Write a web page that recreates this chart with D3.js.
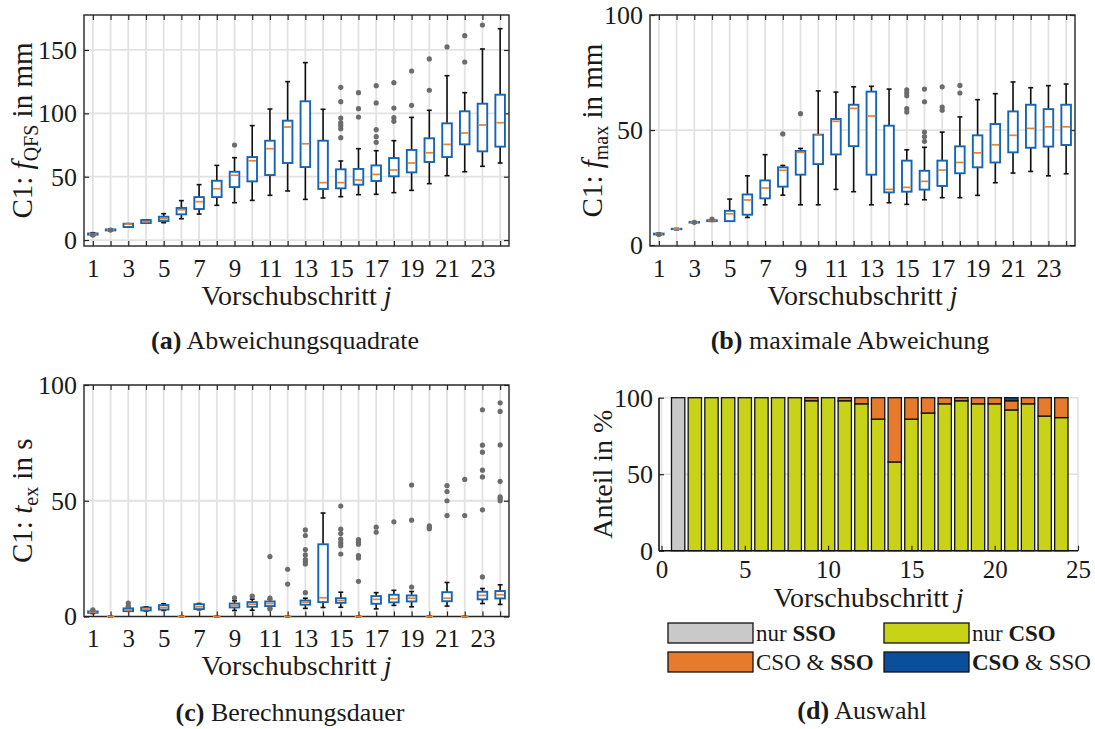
<!DOCTYPE html>
<html>
<head>
<meta charset="utf-8">
<script src="https://cdn.jsdelivr.net/npm/d3@7/dist/d3.min.js"></script>
<style>
  body { margin: 0; background: #fff; }
  svg text { font-family: "Liberation Serif", "Times New Roman", serif; fill: #1a1a1a; }
</style>
</head>
<body>
<svg id="fig" width="1095" height="729"></svg>
<script>
// Feed steps j = 1..24
const steps = d3.range(1, 25);

// (a) f_QFS in mm — box statistics per step
const qfsLow  = [3.5, 7.2, 10.3, 13.4, 13.7, 16.8, 20.5, 27.4, 29.5, 31.3, 35.3, 38.7, 32.1, 33.2, 34.2, 35.8, 36.1, 37.4, 39.2, 44.5, 50.8, 53.9, 58.2, 60.8];
const qfsQ1   = [4.3, 7.6, 10.3, 13.4, 15.0, 20.3, 24.5, 33.9, 41.8, 46.3, 51.3, 60.8, 57.6, 40.3, 40.8, 43.7, 46.6, 50.3, 53.4, 61.6, 65.5, 75.5, 70.0, 73.7];
const qfsMed  = [4.8, 8.0, 12.6, 14.5, 16.8, 23.9, 30.3, 40.5, 51.1, 62.6, 72.1, 89.2, 76.0, 45.3, 45.3, 47.4, 51.8, 55.3, 60.8, 68.9, 75.5, 84.5, 90.8, 92.6];
const qfsQ3   = [5.2, 8.4, 12.9, 15.8, 18.4, 25.3, 33.9, 46.8, 53.9, 65.5, 78.4, 94.2, 109.5, 78.4, 55.8, 56.1, 58.9, 64.7, 71.1, 80.3, 92.1, 101.6, 107.6, 114.7];
const qfsHigh = [5.8, 8.6, 12.9, 15.8, 20.8, 31.1, 43.7, 58.9, 65.0, 90.3, 103.4, 125.0, 140.0, 103.2, 62.4, 72.1, 70.5, 78.4, 96.8, 102.4, 129.7, 116.3, 150.8, 166.8];
const qfsOut  = [[3.9], [7.9], [], [], [], [], [], [], [75.0], [], [], [], [], [],
  [120.5, 109.2, 96.3, 92.6, 90.4, 87.9, 80.8], [116.3, 103.7, 97.1], [121.8, 108.2, 87.1, 81.6, 77.1],
  [124.2, 104.2, 96.6, 93.7], [133.4, 106.3], [142.9, 118.2], [152.4], [161.3, 140.5], [169.7], []];

// (b) f_max in mm
const maxLow  = [4.3, 6.7, 9.6, 10.3, 10.4, 12.0, 17.5, 21.7, 17.5, 17.5, 24.2, 23.2, 17.5, 18.4, 17.7, 19.7, 20.6, 20.6, 21.6, 27.1, 31.3, 32.0, 30.1, 31.0];
const maxQ1   = [4.6, 6.9, 9.8, 10.4, 10.4, 13.2, 20.3, 25.4, 30.6, 35.2, 39.4, 43.0, 30.6, 22.9, 23.2, 24.1, 25.7, 31.2, 33.8, 35.9, 40.3, 42.3, 42.8, 43.5];
const maxMed  = [4.8, 7.0, 9.9, 10.6, 13.6, 19.6, 24.8, 32.5, 40.3, 47.8, 53.8, 59.4, 56.1, 24.2, 25.1, 27.7, 32.6, 35.9, 40.1, 43.6, 47.7, 50.7, 51.4, 51.4];
const maxQ3   = [5.0, 7.1, 10.0, 10.8, 14.9, 22.0, 28.1, 33.8, 40.9, 48.0, 54.8, 61.0, 66.7, 51.9, 36.7, 32.3, 36.7, 42.9, 47.7, 52.6, 58.1, 61.0, 59.1, 61.0];
const maxHigh = [5.2, 7.2, 10.2, 11.0, 20.0, 30.1, 39.3, 34.6, 42.0, 67.0, 66.5, 68.8, 69.0, 67.8, 41.4, 42.5, 49.1, 55.7, 63.2, 65.8, 70.9, 68.4, 69.3, 70.0];
const maxOut  = [[4.6], [], [9.9], [11.3], [], [], [], [48.3], [57.1], [], [], [], [], [],
  [67.5, 66.2, 64.9, 59.3, 57.8], [67.8, 62.3, 49.1, 47.2, 45.1], [68.8, 60.0, 58.6], [69.4, 66.1],
  [], [], [], [], [], []];

// (c) t_ex in s
const texLow  = [1.3, 0, 2.3, 2.4, 2.6, 0, 2.9, 0, 2.6, 2.7, 3.6, 0, 3.5, 3.9, 4.0, 0, 3.3, 4.8, 4.2, 0, 4.5, 0, 5.6, 5.2];
const texQ1   = [1.6, 0, 2.3, 2.6, 3.0, 0, 3.2, 0, 3.9, 4.2, 4.5, 0, 5.1, 6.2, 5.9, 0, 5.5, 6.1, 6.5, 0, 6.6, 0, 7.4, 7.8];
const texMed  = [1.9, 0, 2.9, 3.2, 3.9, 0, 4.2, 0, 4.8, 5.3, 5.6, 0, 6.2, 8.1, 6.9, 0, 7.4, 7.7, 7.9, 0, 7.9, 0, 9.1, 9.4];
const texQ3   = [2.2, 0, 3.5, 3.9, 4.9, 0, 5.3, 0, 5.6, 6.2, 6.5, 0, 6.9, 31.2, 7.9, 0, 8.8, 9.4, 9.1, 0, 10.5, 0, 10.7, 11.0];
const texHigh = [2.5, 0, 4.0, 4.2, 5.5, 0, 5.6, 0, 6.8, 7.5, 7.4, 0, 7.9, 44.7, 10.5, 0, 10.3, 11.3, 10.8, 0, 14.7, 0, 12.1, 13.7];
const texOut  = [[2.9], [], [5.8, 4.6], [], [], [], [], [], [8.1], [8.8], [25.9, 7.9, 3.2], [20.4, 14.0],
  [37.4, 35.0, 28.9, 26.6, 24.6, 23.7, 22.7, 10.3], [], [47.7, 37.7, 35.8, 33.4, 31.9, 30.6, 27.0],
  [33.2, 32.1, 31.2, 26.3, 25.3, 15.2], [38.6, 36.4], [40.9], [56.8, 41.6, 12.7], [39.2, 38.6, 37.9],
  [56.5, 54.0, 50.0, 43.6], [59.2, 43.6], [89.3, 74.0, 71.0, 63.2, 60.3, 46.1, 17.1],
  [92.3, 88.6, 74.1, 58.4, 51.7, 51.0, 50.0]];

// (d) share of selected optimiser in %
const shareNurSSO  = [100, 0, 0, 0, 0, 0, 0, 0, 0, 0, 0, 0, 0, 0, 0, 0, 0, 0, 0, 0, 0, 0, 0, 0];
const shareNurCSO  = [0, 100, 100, 100, 100, 100, 100, 100, 98, 100, 98, 96, 86, 58, 86, 90, 96, 98, 96, 96, 92, 96, 88, 87];
const shareCsoSSO  = [0, 0, 0, 0, 0, 0, 0, 0, 2, 0, 2, 4, 14, 42, 14, 10, 4, 2, 4, 4, 6, 4, 12, 13];
const shareCSOsso  = [0, 0, 0, 0, 0, 0, 0, 0, 0, 0, 0, 0, 0, 0, 0, 0, 0, 0, 0, 0, 2, 0, 0, 0];

const svg = d3.select("#fig");
const SERIF = '"Liberation Serif", "Times New Roman", serif';
const INK = "#262626";
const GRID = "#e2e2e2";
const BOX_BLUE = "#1565b5";
const MED_ORANGE = "#e8822e";
const OUT_GRAY = "#6c6c6c";
const TICK_FS = 24, LABEL_FS = 27;

function styleAxis(sel, size) {
  sel.select(".domain").remove();
  sel.selectAll("line").attr("stroke", INK).attr("stroke-width", 1.2);
  sel.selectAll("text").attr("font-family", SERIF).attr("font-size", size).attr("fill", "#1a1a1a");
}

function boxPanel(p) {
  const x = d3.scaleLinear().domain([0.5, 24.5]).range([p.left, p.right]);
  const y = d3.scaleLinear().domain(p.yDomain).range([p.bottom, p.top]);
  const g = svg.append("g");

  // grid
  const grid = g.append("g").attr("stroke", GRID).attr("stroke-width", 1.8);
  grid.selectAll("line.v").data(steps).join("line").attr("class", "v")
    .attr("x1", d => x(d)).attr("x2", d => x(d)).attr("y1", p.top).attr("y2", p.bottom);
  grid.selectAll("line.h").data(p.yTicks).join("line").attr("class", "h")
    .attr("x1", p.left).attr("x2", p.right).attr("y1", d => y(d)).attr("y2", d => y(d));

  // frame and ticks
  g.append("rect").attr("x", p.left).attr("y", p.top).attr("width", p.right - p.left)
    .attr("height", p.bottom - p.top).attr("fill", "none").attr("stroke", INK).attr("stroke-width", 1.4);

  const axB = g.append("g").attr("transform", `translate(0,${p.bottom})`)
    .call(d3.axisBottom(x).tickValues(steps).tickSize(-5).tickPadding(p.xPad).tickFormat(d => d % 2 ? d : ""));
  styleAxis(axB, TICK_FS + 1);
  const axT = g.append("g").attr("transform", `translate(0,${p.top})`)
    .call(d3.axisTop(x).tickValues(steps).tickSize(-5).tickFormat(""));
  styleAxis(axT, TICK_FS);
  const axL = g.append("g").attr("transform", `translate(${p.left},0)`)
    .call(d3.axisLeft(y).tickValues(p.yTicks).tickSize(-5).tickPadding(7));
  styleAxis(axL, TICK_FS + 2);
  const axR = g.append("g").attr("transform", `translate(${p.right},0)`)
    .call(d3.axisRight(y).tickValues(p.yTicks).tickSize(-5).tickFormat(""));
  styleAxis(axR, TICK_FS);

  const items = steps.map((j, i) => ({
    j, lo: p.low[i], q1: p.q1[i], med: p.med[i], q3: p.q3[i], hi: p.high[i], out: p.out[i]
  }));
  const hw = x(1.27) - x(1);   // box half width
  const cw = x(1.14) - x(1);   // whisker cap half width

  const bx = g.append("g").selectAll("g").data(items).join("g");
  // whiskers
  bx.append("line").attr("x1", d => x(d.j)).attr("x2", d => x(d.j))
    .attr("y1", d => y(d.q3)).attr("y2", d => y(d.hi)).attr("stroke", "#111").attr("stroke-width", 1.6);
  bx.append("line").attr("x1", d => x(d.j)).attr("x2", d => x(d.j))
    .attr("y1", d => y(d.q1)).attr("y2", d => y(d.lo)).attr("stroke", "#111").attr("stroke-width", 1.6);
  bx.append("line").attr("x1", d => x(d.j) - cw).attr("x2", d => x(d.j) + cw)
    .attr("y1", d => y(d.hi)).attr("y2", d => y(d.hi)).attr("stroke", "#111").attr("stroke-width", 1.6);
  bx.append("line").attr("x1", d => x(d.j) - cw).attr("x2", d => x(d.j) + cw)
    .attr("y1", d => y(d.lo)).attr("y2", d => y(d.lo)).attr("stroke", "#111").attr("stroke-width", 1.6);
  // box
  bx.append("rect").attr("x", d => x(d.j) - hw).attr("width", 2 * hw)
    .attr("y", d => y(d.q3)).attr("height", d => y(d.q1) - y(d.q3))
    .attr("fill", "#fff").attr("stroke", BOX_BLUE).attr("stroke-width", 1.9);
  // median
  bx.append("line").attr("x1", d => x(d.j) - hw + 1).attr("x2", d => x(d.j) + hw - 1)
    .attr("y1", d => y(d.med)).attr("y2", d => y(d.med)).attr("stroke", MED_ORANGE).attr("stroke-width", 1.7);
  // outliers
  bx.selectAll("circle").data(d => d.out.map(v => ({ j: d.j, v }))).join("circle")
    .attr("cx", d => x(d.j)).attr("cy", d => y(d.v)).attr("r", 2.6).attr("fill", OUT_GRAY);

  // x label
  const xl = g.append("text").attr("x", (p.left + p.right) / 2).attr("y", p.xLabelY)
    .attr("text-anchor", "middle").attr("font-size", LABEL_FS + 1);
  xl.append("tspan").text("Vorschubschritt ");
  xl.append("tspan").attr("font-style", "italic").text("j");

  // y label
  const yl = g.append("text")
    .attr("transform", `translate(${p.yLabelX},${(p.top + p.bottom) / 2}) rotate(-90)`)
    .attr("text-anchor", "middle").attr("font-size", LABEL_FS + 2);
  yl.append("tspan").text("C1:  ");
  yl.append("tspan").attr("font-style", "italic").text(p.sym);
  yl.append("tspan").attr("dy", 6).attr("font-size", 20).text(p.sub);
  yl.append("tspan").attr("dy", -6).text(" in " + p.unit);

  // caption
  const cap = g.append("text").attr("x", p.capX).attr("y", p.capY).attr("text-anchor", "middle").attr("font-size", 26);
  cap.append("tspan").attr("font-weight", "bold").text(p.capTag);
  cap.append("tspan").text(" " + p.capText);
}

boxPanel({
  left: 84, right: 509, top: 15, bottom: 246, yDomain: [-4.7, 177.6], yTicks: [0, 50, 100, 150],
  low: qfsLow, q1: qfsQ1, med: qfsMed, q3: qfsQ3, high: qfsHigh, out: qfsOut,
  xPad: 13, xLabelY: 305, yLabelX: 32, sym: "f", sub: "QFS", unit: "mm",
  capX: 285, capY: 349, capTag: "(a)", capText: "Abweichungsquadrate"
});

boxPanel({
  left: 650, right: 1075, top: 15, bottom: 246, yDomain: [-0.4, 100], yTicks: [0, 50, 100],
  low: maxLow, q1: maxQ1, med: maxMed, q3: maxQ3, high: maxHigh, out: maxOut,
  xPad: 13, xLabelY: 305, yLabelX: 602, sym: "f", sub: "max", unit: "mm",
  capX: 850, capY: 349, capTag: "(b)", capText: "maximale Abweichung"
});

boxPanel({
  left: 84, right: 509, top: 385, bottom: 616.5, yDomain: [0, 100], yTicks: [0, 50, 100],
  low: texLow, q1: texQ1, med: texMed, q3: texQ3, high: texHigh, out: texOut,
  xPad: 13, xLabelY: 675, yLabelX: 32, sym: "t", sub: "ex", unit: "s",
  capX: 290, capY: 721, capTag: "(c)", capText: "Berechnungsdauer"
});

// (d) stacked share bars
(function sharePanel() {
  const left = 659, right = 1078, top = 397.7, bottom = 550.7;
  const x = d3.scaleLinear().domain([-0.15, 25]).range([left, right]);
  const y = d3.scaleLinear().domain([0, 100]).range([bottom, top]);
  const g = svg.append("g");

  const keys = ["nurSSO", "nurCSO", "csoSSO", "CSOsso"];
  const colors = { nurSSO: "#c9c9c9", nurCSO: "#c8d318", csoSSO: "#e87a2c", CSOsso: "#0b4f9b" };
  const table = steps.map((j, i) => ({
    j, nurSSO: shareNurSSO[i], nurCSO: shareNurCSO[i], csoSSO: shareCsoSSO[i], CSOsso: shareCSOsso[i]
  }));
  const series = d3.stack().keys(keys)(table);

  const grid = g.append("g").attr("stroke", GRID).attr("stroke-width", 1.6);
  grid.selectAll("line.v").data(d3.range(0, 26, 5)).join("line")
    .attr("x1", d => x(d)).attr("x2", d => x(d)).attr("y1", top).attr("y2", bottom);
  grid.selectAll("line.h").data([0, 50, 100]).join("line")
    .attr("x1", left).attr("x2", right).attr("y1", d => y(d)).attr("y2", d => y(d));

  const bw = x(0.4) - x(0);
  g.append("g").selectAll("g").data(series).join("g")
    .attr("fill", d => colors[d.key])
    .selectAll("rect").data(d => d).join("rect")
    .attr("x", d => x(d.data.j) - bw).attr("width", 2 * bw)
    .attr("y", d => y(d[1])).attr("height", d => y(d[0]) - y(d[1]))
    .attr("stroke", "#111").attr("stroke-width", 1.3);

  const axB = g.append("g").attr("transform", `translate(0,${bottom})`)
    .call(d3.axisBottom(x).tickValues(d3.range(0, 26, 5)).tickSize(-5).tickPadding(10));
  styleAxis(axB, TICK_FS + 1);
  const axL = g.append("g").attr("transform", `translate(${left},0)`)
    .call(d3.axisLeft(y).tickValues([0, 50, 100]).tickSize(-5).tickPadding(6));
  styleAxis(axL, TICK_FS + 2);
  g.append("line").attr("x1", left).attr("x2", right).attr("y1", bottom).attr("y2", bottom)
    .attr("stroke", "#111").attr("stroke-width", 1.6);
  g.append("line").attr("x1", left).attr("x2", left).attr("y1", top).attr("y2", bottom)
    .attr("stroke", "#111").attr("stroke-width", 1.6);

  const xl = g.append("text").attr("x", (left + right) / 2).attr("y", 607)
    .attr("text-anchor", "middle").attr("font-size", LABEL_FS + 1);
  xl.append("tspan").text("Vorschubschritt ");
  xl.append("tspan").attr("font-style", "italic").text("j");

  g.append("text").attr("transform", `translate(612,${(top + bottom) / 2}) rotate(-90)`)
    .attr("text-anchor", "middle").attr("font-size", LABEL_FS + 1).text("Anteil in %");

  // legend, two columns
  const legend = [
    { key: "nurSSO", parts: [["nur ", false], ["SSO", true]], col: 0, row: 0 },
    { key: "nurCSO", parts: [["nur ", false], ["CSO", true]], col: 1, row: 0 },
    { key: "csoSSO", parts: [["CSO & ", false], ["SSO", true]], col: 0, row: 1 },
    { key: "CSOsso", parts: [["CSO", true], [" & SSO", false]], col: 1, row: 1 }
  ];
  const colX = [668, 884], rowY = [623, 652];
  const lg = g.append("g").selectAll("g").data(legend).join("g")
    .attr("transform", d => `translate(${colX[d.col]},${rowY[d.row]})`);
  lg.append("rect").attr("width", 85).attr("height", 20)
    .attr("fill", d => colors[d.key]).attr("stroke", "#111").attr("stroke-width", 1.3);
  const lt = lg.append("text").attr("x", 88).attr("y", 18).attr("font-size", 23);
  lt.selectAll("tspan").data(d => d.parts).join("tspan")
    .attr("font-weight", d => d[1] ? "bold" : "normal").text(d => d[0]);

  const cap = g.append("text").attr("x", 862).attr("y", 719).attr("text-anchor", "middle").attr("font-size", 26);
  cap.append("tspan").attr("font-weight", "bold").text("(d)");
  cap.append("tspan").text(" Auswahl");
})();
</script>
</body>
</html>
